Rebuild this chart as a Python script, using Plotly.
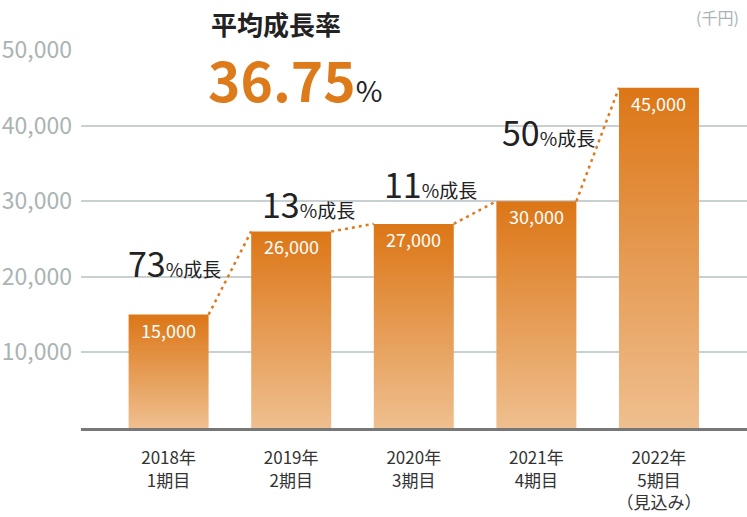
import plotly.graph_objects as go

categories = ["2018年<br>1期目", "2019年<br>2期目", "2020年<br>3期目", "2021年<br>4期目", "2022年<br>5期目<br>（見込み）"]
values = [15000, 26000, 27000, 30000, 45000]
growth_pct = ["73", "13", "11", "50"]
value_labels = ["15,000", "26,000", "27,000", "30,000", "45,000"]
avg_growth = "36.75"
y_ticks = [10000, 20000, 30000, 40000, 50000]

FONT = "Noto Sans CJK JP"
BAR_W = 0.6525
L, T, B = 81, 50, 89
W, H = 747, 517
PW, PH = 666, 378

def px_x(px):
    return (px - 81) / PW

def px_y(py):
    return (428 - py) / PH

fig = go.Figure()

# bars with vertical gradient
for i, v in enumerate(values):
    x0, x1 = i - BAR_W / 2, i + BAR_W / 2
    fig.add_trace(go.Scatter(
        x=[x0, x1, x1, x0, x0], y=[0, 0, v, v, 0],
        mode="lines", line=dict(width=0), fill="toself",
        fillgradient=dict(type="vertical", start=0, stop=v,
                          colorscale=[[0, "#efbf8f"], [1, "#dc7616"]]),
        hoverinfo="skip", showlegend=False))

# dotted connectors
for i in range(len(values) - 1):
    fig.add_trace(go.Scatter(
        x=[i + BAR_W / 2, i + 1 - BAR_W / 2], y=[values[i], values[i + 1]],
        mode="lines", line=dict(color="#e07a1c", width=2.5, dash="3px,4px"),
        hoverinfo="skip", showlegend=False))

# value labels inside bars
for i, (v, lab) in enumerate(zip(values, value_labels)):
    fig.add_annotation(x=i, y=v, text=lab, showarrow=False, yanchor="middle",
                       yshift=-15, font=dict(family=FONT, size=18, color="white"))

# growth labels
growth_pos = [(0.05, 21560), (1.145, 29365), (2.14, 32010), (3.095, 38760)]
for g, (gx, gy) in zip(growth_pct, growth_pos):
    fig.add_annotation(
        x=gx, y=gy, showarrow=False, yanchor="middle", yshift=3,
        text=f"<span style='font-size:34px'>{g}</span><span style='font-size:19px'>%成長</span>",
        font=dict(family=FONT, size=19, color="#222222"))

# titles
fig.add_annotation(xref="paper", yref="paper", x=px_x(276), y=px_y(24),
                   text="<b>平均成長率</b>", showarrow=False,
                   xanchor="center", yanchor="middle",
                   font=dict(family=FONT, size=26, color="#222222"))
fig.add_annotation(xref="paper", yref="paper", x=px_x(206), y=px_y(78),
                   xanchor="left", yanchor="middle", showarrow=False,
                   text=f"<b><span style='font-size:55px;color:#dd7a1a'>{avg_growth}</span></b><span style='font-size:29px;color:#222222'>%</span>",
                   font=dict(family=FONT, size=29, color="#222222"))
fig.add_annotation(xref="paper", yref="paper", x=px_x(741), y=px_y(17),
                   xanchor="right", yanchor="middle", showarrow=False,
                   text="(千円)", font=dict(family=FONT, size=16, color="#a9b3b3"))

fig.update_layout(
    width=W, height=H,
    margin=dict(l=L, r=0, t=T, b=B, autoexpand=False),
    paper_bgcolor="white", plot_bgcolor="white",
    font=dict(family=FONT),
    hovermode=False,
    xaxis=dict(range=[-0.7145, 4.718], tickvals=list(range(len(categories))),
               ticktext=categories, showgrid=False, zeroline=False, automargin=False,
               showline=True, linecolor="#777777", linewidth=3,
               ticks="", ticklabelstandoff=13,
               tickfont=dict(family=FONT, size=17, color="#333333")),
    yaxis=dict(range=[0, 50000], tickvals=y_ticks, ticktext=[f"{t:,}" for t in y_ticks],
               showgrid=True, gridcolor="#c8d0d2", gridwidth=2, zeroline=False,
               automargin=False, showline=False, ticks="", ticklabelstandoff=8,
               tickfont=dict(family=FONT, size=23, color="#aab4b2")),
)

fig.write_html("out.html", config={"displayModeBar": False},
               post_script="document.body.style.margin='0px';")
